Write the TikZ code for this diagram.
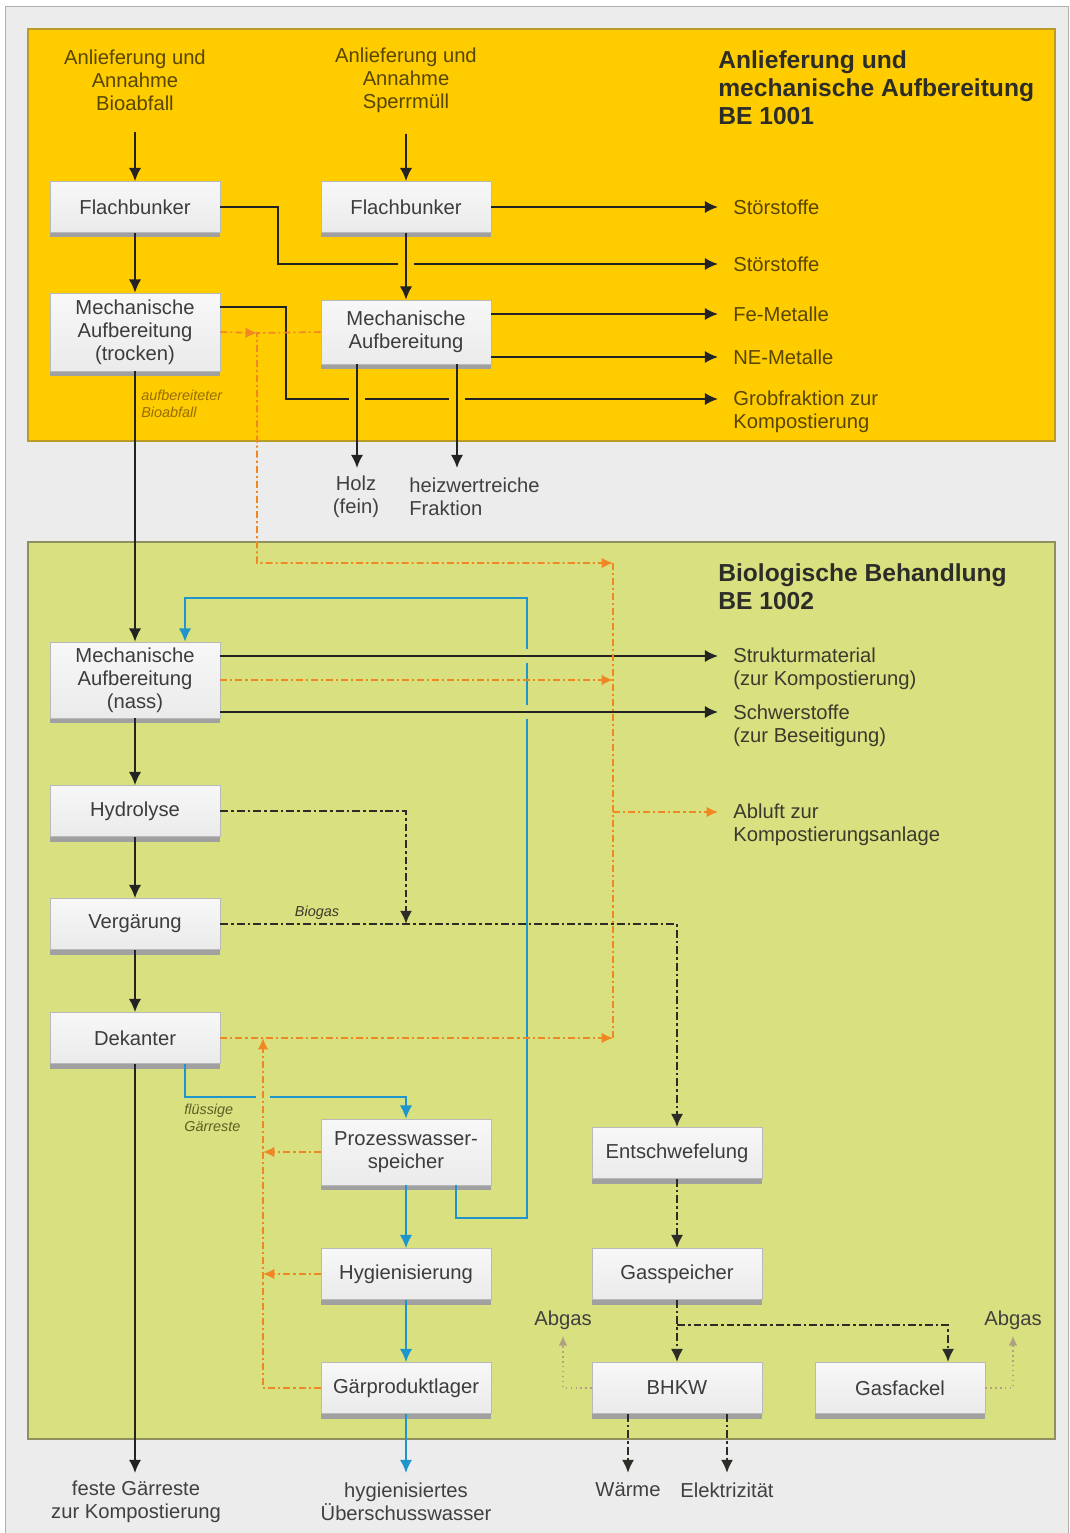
\documentclass[tikz,border=0pt]{standalone}
\usepackage{fontspec}
\setmainfont{Liberation Sans}
\usetikzlibrary{arrows.meta,shadows}
\definecolor{bggray}{RGB}{236,236,236}
\definecolor{framegray}{RGB}{175,175,175}
\definecolor{ylw}{RGB}{255,204,0}
\definecolor{ylwline}{RGB}{185,155,40}
\definecolor{grn}{RGB}{217,224,128}
\definecolor{grnline}{RGB}{140,145,95}
\definecolor{boxline}{RGB}{185,185,185}
\definecolor{boxband}{RGB}{160,160,160}
\definecolor{boxtxt}{RGB}{60,60,60}
\definecolor{ttltxt}{RGB}{45,45,40}
\definecolor{ylwtxt}{RGB}{88,70,0}
\definecolor{grntxt}{RGB}{58,58,45}
\definecolor{graytxt}{RGB}{64,64,64}
\definecolor{flowblack}{RGB}{35,35,35}
\definecolor{gasblack}{RGB}{45,45,40}
\definecolor{airorange}{RGB}{240,135,35}
\definecolor{waterblue}{RGB}{30,150,205}
\definecolor{abgascol}{RGB}{175,160,130}
\definecolor{smallylw}{RGB}{150,110,0}
\definecolor{smallgrn}{RGB}{90,95,35}

\begin{document}
\begin{tikzpicture}[x=0.02cm,y=-0.02cm,font=\fontsize{11.5}{13}\selectfont,
    box/.style={draw=boxline,top color=white!85!gray!40,bottom color=gray!16,text=boxtxt,align=center,
        minimum width=3.4cm,minimum height=1.02cm,inner sep=2pt,
        drop shadow={shadow xshift=0cm,shadow yshift=-0.1cm,fill=boxband,opacity=1}},
    lbl/.style={align=center,inner sep=2pt},
    outtxt/.style={anchor=west,align=left,inner sep=0pt},
    ttl/.style={anchor=north west,align=left,inner sep=0pt,text=ttltxt,
        font=\fontsize{14}{16}\selectfont\bfseries},
    small/.style={anchor=north west,align=left,inner sep=0pt,
        font=\fontsize{8.2}{9.6}\selectfont\itshape},
    flow/.style={draw=flowblack,line width=1.1pt},
    arr/.style={flow,-{Latex[length=7.5pt,width=7pt]}},
    air/.style={draw=airorange,line width=0.9pt,dash pattern=on 4pt off 1.7pt on 1.2pt off 1.7pt},
    airarr/.style={air,-{Latex[length=6.5pt,width=6pt]}},
    gas/.style={draw=gasblack,line width=1.5pt,dash pattern=on 4.5pt off 1.7pt on 1.5pt off 1.7pt},
    gasarr/.style={gas,-{Latex[length=7.5pt,width=7pt]}},
    water/.style={draw=waterblue,line width=1.1pt},
    waterarr/.style={water,-{Latex[length=7.5pt,width=7pt]}},
    exh/.style={draw=abgascol,line width=0.8pt,dotted,-{Latex[length=5.5pt,width=5pt]}}]

    \useasboundingbox (0,0) rectangle (1070,1533);
    \draw[draw=framegray,fill=bggray] (5,6) rectangle (1068,1545);
    \draw[draw=ylwline,fill=ylw,line width=0.8pt] (28,29) rectangle (1055,441);
    \draw[draw=grnline,fill=grn,line width=0.8pt] (28,542) rectangle (1055,1439);

    \node[ttl] (ttlA) at (718,50) {Anlieferung und\\mechanische Aufbereitung\\BE 1001};
    \node[ttl] (ttlB) at (718,563) {Biologische Behandlung\\BE 1002};

    \node[lbl,text=ylwtxt] (inBio) at (135,80) {Anlieferung und\\Annahme\\Bioabfall};
    \node[lbl,text=ylwtxt] (inSperr) at (406,80) {Anlieferung und\\Annahme\\Sperrmüll};

    \node[box] (FB1) at (135,207) {Flachbunker};
    \node[box] (FB2) at (406,207) {Flachbunker};
    \node[box,minimum height=1.56cm] (MAT) at (135,332) {Mechanische\\Aufbereitung\\(trocken)};
    \node[box,minimum height=1.28cm] (MA) at (406,332) {Mechanische\\Aufbereitung};
    \node[box,minimum height=1.52cm] (MAN) at (135,680) {Mechanische\\Aufbereitung\\(nass)};
    \node[box] (Hyd) at (135,811) {Hydrolyse};
    \node[box] (Verg) at (135,924) {Vergärung};
    \node[box] (Dek) at (135,1038) {Dekanter};
    \node[box,minimum height=1.32cm] (PWS) at (406,1152) {Prozesswasser-\\speicher};
    \node[box] (Hyg) at (406,1274) {Hygienisierung};
    \node[box] (GPL) at (406,1388) {Gärproduktlager};
    \node[box] (Ents) at (677,1153) {Entschwefelung};
    \node[box] (Gasp) at (677,1274) {Gasspeicher};
    \node[box] (BHKW) at (677,1388) {BHKW};
    \node[box] (Fack) at (900,1388) {Gasfackel};

    \node[outtxt,text=ylwtxt] (stoerA) at (733,207) {Störstoffe};
    \node[outtxt,text=ylwtxt] (stoerB) at (733,264) {Störstoffe};
    \node[outtxt,text=ylwtxt] (fe) at (733,314) {Fe-Metalle};
    \node[outtxt,text=ylwtxt] (ne) at (733,357) {NE-Metalle};
    \node[outtxt,text=ylwtxt] (grob) at (733,412) {Grobfraktion zur\\Kompostierung};
    \node[outtxt,text=grntxt] (struk) at (733,669) {Strukturmaterial\\(zur Kompostierung)};
    \node[outtxt,text=grntxt] (schwer) at (733,726) {Schwerstoffe\\(zur Beseitigung)};
    \node[outtxt,text=grntxt] (abluft) at (733,825) {Abluft zur\\Kompostierungsanlage};
    \node[lbl,text=graytxt] (holz) at (356,497) {Holz\\(fein)};
    \node[outtxt,text=graytxt] (heiz) at (409,497) {heizwertreiche\\Fraktion};
    \node[lbl,text=graytxt] (fest) at (136,1502) {feste Gärreste\\zur Kompostierung};
    \node[lbl,text=graytxt] (wasser) at (406,1502) {hygienisiertes\\Überschusswasser};
    \node[lbl,text=graytxt] (waerme) at (628,1490) {Wärme};
    \node[lbl,text=graytxt] (elek) at (727,1490) {Elektrizität};
    \node[lbl,text=graytxt] (abgasL) at (563,1320) {Abgas};
    \node[lbl,text=graytxt] (abgasR) at (1013,1320) {Abgas};
    \node[small,text=smallylw] (aufb) at (141,390) {aufbereiteter\\Bioabfall};
    \node[small,text=smallgrn] (fluess) at (184,1104) {flüssige\\Gärreste};
    \node[small,text=grntxt,anchor=center] (biogas) at (317,913) {Biogas};

    \coordinate (oStoerA) at (718,207);
    \coordinate (oStoerB) at (718,264);
    \coordinate (cStoer) at (278,264);
    \coordinate (oFe) at (718,314);
    \coordinate (oNe) at (718,357);
    \coordinate (cGrob) at (286,307);
    \coordinate (oGrob) at (718,399);
    \coordinate (oHolz) at (357,468);
    \coordinate (oHeiz) at (457,468);
    \coordinate (oStruk) at (718,656);
    \coordinate (oSchwer) at (718,712);
    \coordinate (oAbluft) at (718,812);
    \coordinate (jA) at (257,333);
    \coordinate (jB) at (613,563);
    \coordinate (jC) at (613,1038);
    \coordinate (jD) at (613,812);
    \coordinate (jE) at (263,1038);
    \coordinate (cFl) at (185,1097);
    \coordinate (wA) at (456,1218);
    \coordinate (wB) at (527,598);
    \coordinate (gHyd) at (406,811);
    \coordinate (gFk) at (948,1325);
    \coordinate (oFest) at (135,1473);
    \coordinate (oWasser) at (406,1473);
    \coordinate (oWaerme) at (628,1473);
    \coordinate (oElek) at (727,1473);
    \coordinate (oAbgasL) at (563,1336);
    \coordinate (oAbgasR) at (1013,1336);

    \draw[arr] (FB1) -| (cStoer) -- (oStoerB);
    \draw[arr] (MAT.east |- cGrob) -- (cGrob) |- (oGrob);
    \draw[waterarr] (Dek.south -| cFl) -- (cFl) -| (PWS);
    \draw[waterarr] (PWS.south -| wA) -- (wA) -| (wB) -| (MAN.north -| cFl);
    \draw[waterarr] (PWS) -- (Hyg);
    \draw[waterarr] (Hyg) -- (GPL);
    \draw[waterarr] (GPL) -- (oWasser);

    \draw[draw=ylw,line width=9pt] (406,260) -- (406,268);
    \draw[draw=ylw,line width=9pt] (357,395) -- (357,403);
    \draw[draw=ylw,line width=9pt] (457,395) -- (457,403);
    \draw[draw=grn,line width=8.5pt] (522,656) -- (532,656);
    \draw[draw=grn,line width=8.5pt] (522,712) -- (532,712);
    \draw[draw=grn,line width=8pt] (263,1093) -- (263,1101);

    \draw[arr,shorten <=10pt] (inBio) -- (FB1);
    \draw[arr,shorten <=10pt] (inSperr) -- (FB2);
    \draw[arr] (FB1) -- (MAT);
    \draw[arr] (FB2) -- (MA);
    \draw[arr] (FB2) -- (oStoerA);
    \draw[arr] (MA.east |- oFe) -- (oFe);
    \draw[arr] (MA.east |- oNe) -- (oNe);
    \draw[arr] (MA.south -| oHolz) -- (oHolz);
    \draw[arr] (MA.south -| oHeiz) -- (oHeiz);
    \draw[arr] (MAT) -- (MAN);
    \draw[arr] (MAN.east |- oStruk) -- (oStruk);
    \draw[arr] (MAN.east |- oSchwer) -- (oSchwer);
    \draw[arr] (MAN) -- (Hyd);
    \draw[arr] (Hyd) -- (Verg);
    \draw[arr] (Verg) -- (Dek);
    \draw[arr] (Dek) -- (oFest);

    \draw[gasarr] (Hyd) -| (Verg.east -| gHyd);
    \draw[gasarr] (Verg) -| (Ents);
    \draw[gasarr] (Ents) -- (Gasp);
    \draw[gasarr] (Gasp) -- (BHKW);
    \draw[gasarr] (Gasp.south |- gFk) -- (gFk) -- (Fack.north -| gFk);
    \draw[gasarr] (BHKW.south -| oWaerme) -- (oWaerme);
    \draw[gasarr] (BHKW.south -| oElek) -- (oElek);

    \draw[airarr] (MAT.east) -- (jA);
    \draw[airarr] (MA.west) -- (jA) |- (jB);
    \draw[air] (jB) -- (jC);
    \draw[airarr] (MAN.east) -- (MAN.east -| jB);
    \draw[airarr] (Dek) -- (jC);
    \draw[airarr] (jD) -- (oAbluft);
    \draw[airarr] (GPL) -| (jE);
    \draw[airarr] (PWS) -- (PWS.west -| jE);
    \draw[airarr] (Hyg) -- (Hyg.west -| jE);

    \draw[exh] (BHKW) -| (oAbgasL);
    \draw[exh] (Fack) -| (oAbgasR);
\end{tikzpicture}
\end{document}
